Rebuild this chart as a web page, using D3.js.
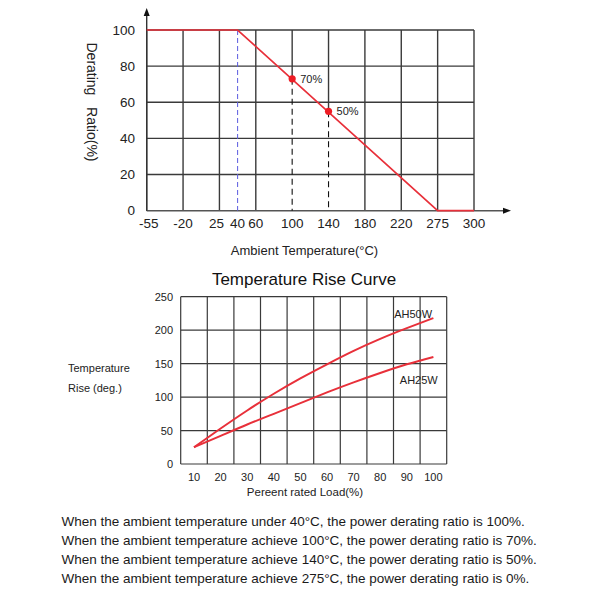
<!DOCTYPE html>
<html>
<head>
<meta charset="utf-8">
<script src="https://cdn.jsdelivr.net/npm/d3@7"></script>
<style>
  html, body { margin: 0; padding: 0; background: #fff; }
  svg { display: block; font-family: "Liberation Sans", Arial, sans-serif; }
</style>
</head>
<body>
<svg id="chart" width="600" height="600"></svg>
<script>

// derating curve
var tempTicks = [-55, -20, 25, 40, 60, 100, 140, 180, 220, 275, 300];
var gridTemps = [-55, -20, 25, 60, 100, 140, 180, 220, 275, 300];
var ratioTicks = [0, 20, 40, 60, 80, 100];
var deratingTemp = [-55, 40, 275, 300];
var deratingRatio = [100, 100, 0, 0];
var markTemp = [100, 140];
var markRatio = [73, 55];
var markLabels = ["70%", "50%"];

// temperature rise curve
var loadTicks = [10, 20, 30, 40, 50, 60, 70, 80, 90, 100];
var riseTicks = [0, 50, 100, 150, 200, 250];
var load = [10, 20, 30, 40, 50, 60, 70, 80, 90, 100];
var riseAH50W = [25, 53, 80, 105, 128, 149, 169, 187, 203, 218];
var riseAH25W = [25, 42, 59, 75, 91, 107, 122, 136, 149, 160];
var seriesNames = ["AH50W", "AH25W"];

var notes = [
	"When the ambient temperature under 40°C, the power derating ratio is 100%.",
	"When the ambient temperature achieve 100°C, the power derating ratio is 70%.",
	"When the ambient temperature achieve 140°C, the power derating ratio is 50%.",
	"When the ambient temperature achieve 275°C, the power derating ratio is 0%."
];

var red = "#e8303a";
var gridColor = "#3a3a3a";
var svg = d3.select("#chart");

function drawDerating() {

	var left = 146.7, right = 474, top = 30, bottom = 210.7;

	//the axis is broken: every grid column is the same width, 40 sits half way
	var colIndex = [0, 1, 2, 2.5, 3, 4, 5, 6, 7, 8, 9];
	var step = (right - left) / 9;

	var x = d3.scaleLinear()
		.domain(tempTicks)
		.range(colIndex.map(i => left + i * step));

	var y = d3.scaleLinear()
		.domain([0, 100])
		.range([bottom, top]);

	var g = svg.append("g");

	//grid (columns with a marker stop at the marker, dashed below it)
	g.selectAll("line.vgrid")
		.data(gridTemps)
		.enter()
		.append("line")
		.attr("x1", d => x(d))
		.attr("x2", d => x(d))
		.attr("y1", d => {
			var m = markTemp.indexOf(d);
			return m < 0 ? y(0) : y(markRatio[m]);
		})
		.attr("y2", y(100))
		.attr("stroke", gridColor)
		.attr("stroke-width", 1.4);

	g.selectAll("line.hgrid")
		.data(ratioTicks.slice(1))
		.enter()
		.append("line")
		.attr("x1", x(-55))
		.attr("x2", x(300))
		.attr("y1", d => y(d))
		.attr("y2", d => y(d))
		.attr("stroke", gridColor)
		.attr("stroke-width", 1.4);

	//axes with arrows
	g.append("line")
		.attr("x1", x(-55)).attr("y1", y(0))
		.attr("x2", 506).attr("y2", y(0))
		.attr("stroke", "#555").attr("stroke-width", 1.4);

	g.append("path")
		.attr("d", "M511,210.7 L503,207.7 L503,213.7 Z")
		.attr("fill", "#111");

	g.append("line")
		.attr("x1", x(-55)).attr("y1", y(0))
		.attr("x2", x(-55)).attr("y2", 14)
		.attr("stroke", "#333").attr("stroke-width", 1.4);

	g.append("path")
		.attr("d", "M146.7,8 L143.7,16 L149.7,16 Z")
		.attr("fill", "#111");

	//blue dashed line at 40
	g.append("line")
		.attr("x1", x(40)).attr("x2", x(40))
		.attr("y1", y(100)).attr("y2", y(0))
		.attr("stroke", "#5a5ae0")
		.attr("stroke-width", 1)
		.attr("stroke-dasharray", "5,3");

	//black dashed drop lines
	g.selectAll("line.drop")
		.data(markTemp)
		.enter()
		.append("line")
		.attr("x1", d => x(d)).attr("x2", d => x(d))
		.attr("y1", (d, i) => y(markRatio[i]))
		.attr("y2", y(0))
		.attr("stroke", "#111")
		.attr("stroke-width", 1.1)
		.attr("stroke-dasharray", "6,4");

	//derating line
	var line = d3.line()
		.x(d => x(d[0]))
		.y(d => y(d[1]));

	g.append("path")
		.datum(deratingTemp.map((t, i) => [t, deratingRatio[i]]))
		.attr("d", line)
		.attr("fill", "none")
		.attr("stroke", red)
		.attr("stroke-width", 1.7);

	g.selectAll("circle")
		.data(markTemp)
		.enter()
		.append("circle")
		.attr("cx", d => x(d))
		.attr("cy", (d, i) => y(markRatio[i]))
		.attr("r", 3.6)
		.attr("fill", "#ee1c24");

	g.selectAll("text.mark")
		.data(markTemp)
		.enter()
		.append("text")
		.attr("x", d => x(d) + 8)
		.attr("y", (d, i) => y(markRatio[i]))
		.attr("dominant-baseline", "central")
		.attr("font-size", "11px")
		.attr("fill", "#222")
		.text((d, i) => markLabels[i]);

	//tick labels
	g.selectAll("text.ytick")
		.data(ratioTicks)
		.enter()
		.append("text")
		.attr("x", 135)
		.attr("y", d => y(d))
		.attr("text-anchor", "end")
		.attr("dominant-baseline", "central")
		.attr("font-size", "13.5px")
		.attr("fill", "#222")
		.text(d => d);

	g.selectAll("text.xtick")
		.data(tempTicks)
		.enter()
		.append("text")
		.attr("x", d => x(d) + (d === -55 ? 2 : d === 25 ? -3 : 0))
		.attr("y", 228)
		.attr("text-anchor", "middle")
		.attr("font-size", "13.5px")
		.attr("fill", "#222")
		.text(d => d);

	g.append("text")
		.attr("transform", "translate(87,102) rotate(90)")
		.attr("text-anchor", "middle")
		.attr("font-size", "14px")
		.attr("fill", "#222")
		.attr("xml:space", "preserve")
		.text("Derating   Ratio(%)");

	g.append("text")
		.attr("x", 304.5)
		.attr("y", 255)
		.attr("text-anchor", "middle")
		.attr("font-size", "13px")
		.attr("fill", "#222")
		.text("Ambient Temperature(°C)");

}

function drawRise() {

	var left = 180.7, right = 446.7, top = 296.7, bottom = 464;

	//labels sit in the middle of the grid cells
	var x = d3.scaleLinear()
		.domain([5, 105])
		.range([left, right]);

	var y = d3.scaleLinear()
		.domain([0, 250])
		.range([bottom, top]);

	var g = svg.append("g");

	g.append("text")
		.attr("x", 304)
		.attr("y", 285)
		.attr("text-anchor", "middle")
		.attr("font-size", "17px")
		.attr("fill", "#111")
		.text("Temperature Rise Curve");

	g.selectAll("line.vgrid")
		.data(d3.range(5, 106, 10))
		.enter()
		.append("line")
		.attr("x1", d => x(d)).attr("x2", d => x(d))
		.attr("y1", y(0)).attr("y2", y(250))
		.attr("stroke", gridColor)
		.attr("stroke-width", 1.2);

	g.selectAll("line.hgrid")
		.data(riseTicks)
		.enter()
		.append("line")
		.attr("x1", x(5)).attr("x2", x(105))
		.attr("y1", d => y(d)).attr("y2", d => y(d))
		.attr("stroke", gridColor)
		.attr("stroke-width", 1.2);

	var line = d3.line()
		.x(d => x(d[0]))
		.y(d => y(d[1]))
		.curve(d3.curveNatural);

	var series = [riseAH50W, riseAH25W];

	g.selectAll("path.rise")
		.data(series)
		.enter()
		.append("path")
		.attr("d", s => line(load.map((l, i) => [l, s[i]])))
		.attr("fill", "none")
		.attr("stroke", red)
		.attr("stroke-width", 2);

	//series labels near the end of each curve
	var labelPos = [[92.4, 224], [94.5, 126]];

	g.selectAll("text.series")
		.data(seriesNames)
		.enter()
		.append("text")
		.attr("x", (d, i) => x(labelPos[i][0]))
		.attr("y", (d, i) => y(labelPos[i][1]))
		.attr("text-anchor", "middle")
		.attr("dominant-baseline", "central")
		.attr("font-size", "11px")
		.attr("fill", "#222")
		.text(d => d);

	g.selectAll("text.ytick")
		.data(riseTicks)
		.enter()
		.append("text")
		.attr("x", 173)
		.attr("y", d => y(d))
		.attr("text-anchor", "end")
		.attr("dominant-baseline", "central")
		.attr("font-size", "11px")
		.attr("fill", "#222")
		.text(d => d);

	g.selectAll("text.xtick")
		.data(loadTicks)
		.enter()
		.append("text")
		.attr("x", d => x(d))
		.attr("y", 481)
		.attr("text-anchor", "middle")
		.attr("font-size", "11px")
		.attr("fill", "#222")
		.text(d => d);

	g.append("text")
		.attr("x", 305)
		.attr("y", 496)
		.attr("text-anchor", "middle")
		.attr("font-size", "11.5px")
		.attr("fill", "#222")
		.text("Pereent rated Load(%)");

	g.selectAll("text.ytitle")
		.data(["Temperature", "Rise (deg.)"])
		.enter()
		.append("text")
		.attr("x", 68)
		.attr("y", (d, i) => 372 + i * 20)
		.attr("font-size", "11px")
		.attr("fill", "#222")
		.text(d => d);

}

function drawNotes() {

	svg.selectAll("text.note")
		.data(notes)
		.enter()
		.append("text")
		.attr("x", 61.5)
		.attr("y", (d, i) => 526 + i * 18.9)
		.attr("font-size", "13.5px")
		.attr("fill", "#1a1a1a")
		.text(d => d);

}

drawDerating();
drawRise();
drawNotes();

</script>
</body>
</html>
